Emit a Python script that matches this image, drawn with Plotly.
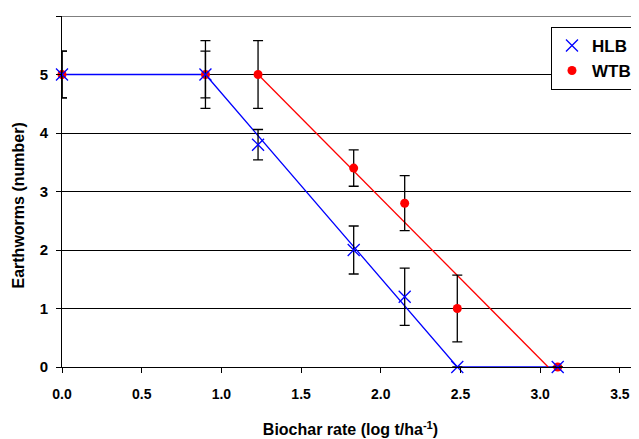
import plotly.graph_objects as go

# Data
x_rate = [0.0, 0.9, 1.23, 1.83, 2.15, 2.48, 3.11]
hlb = [5.0, 5.0, 3.8, 2.0, 1.2, 0.0, 0.0]
hlb_err = [0.4, 0.4, 0.26, 0.41, 0.49, 0.0, 0.0]
wtb = [5.0, 5.0, 5.0, 3.4, 2.8, 1.0, 0.0]
wtb_err = [0.4, 0.58, 0.58, 0.31, 0.47, 0.57, 0.0]

# fitted lines
hlb_fit_x = [0.0, 0.9, 2.48, 3.11]
hlb_fit_y = [5.0, 5.0, 0.0, 0.0]
wtb_fit_x = [1.23, 3.05]
wtb_fit_y = [5.0, 0.0]

x_ticks = [0.0, 0.5, 1.0, 1.5, 2.0, 2.5, 3.0, 3.5]
x_ticklabels = ["0.0", "0.5", "1.0", "1.5", "2.0", "2.5", "3.0", "3.5"]
y_ticks = [0, 1, 2, 3, 4, 5, 6]

FONT = "Arial, Liberation Sans, sans-serif"

fig = go.Figure()
fig.add_trace(go.Scatter(x=hlb_fit_x, y=hlb_fit_y, mode="lines",
                         line=dict(color="#0000ff", width=1.3), showlegend=False,
                         hoverinfo="skip", cliponaxis=False))
fig.add_trace(go.Scatter(x=wtb_fit_x, y=wtb_fit_y, mode="lines",
                         line=dict(color="#ff0000", width=1.3), showlegend=False,
                         hoverinfo="skip", cliponaxis=False))
fig.add_trace(go.Scatter(x=x_rate, y=wtb, mode="markers", name="WTB",
                         marker=dict(symbol="circle", size=9, color="#ff0000"),
                         error_y=dict(type="data", array=wtb_err, visible=True,
                                      color="black", thickness=1.3, width=5),
                         showlegend=False, cliponaxis=False))
fig.add_trace(go.Scatter(x=x_rate, y=hlb, mode="markers", name="HLB",
                         marker=dict(symbol="x-thin", size=12,
                                     line=dict(color="#0000ff", width=1.3), color="#0000ff"),
                         error_y=dict(type="data", array=hlb_err, visible=True,
                                      color="black", thickness=1.3, width=5),
                         cliponaxis=False))
# legend-only WTB so order is HLB, WTB
fig.add_trace(go.Scatter(x=[None], y=[None], mode="markers", name="WTB",
                         marker=dict(symbol="circle", size=9, color="#ff0000")))

# page body has an 8px margin, so the figure is sized/margined to compensate
fig.update_layout(
    width=631, height=431,
    margin=dict(l=54, r=0, t=8, b=72),
    paper_bgcolor="white", plot_bgcolor="white",
    font=dict(family=FONT, size=13, color="black"),
    legend=dict(x=0.9965, y=0.969, xanchor="right", yanchor="top",
                bordercolor="black", borderwidth=1, bgcolor="white",
                font=dict(family=FONT, size=17, color="black", weight="bold"),
                itemwidth=30, tracegroupgap=0),
    xaxis=dict(range=[0, 3.62], tickvals=x_ticks, ticktext=x_ticklabels,
               showgrid=False, zeroline=False, showline=True, linecolor="black", linewidth=1,
               ticks="outside", ticklen=5, tickcolor="black", ticklabelstandoff=9,
               tickfont=dict(family=FONT, size=14, weight="bold"),
               title=dict(text="Biochar rate (log t/ha<sup>-1</sup>)",
                          font=dict(family=FONT, size=16, weight="bold"), standoff=23)),
    yaxis=dict(range=[0, 6], tickvals=y_ticks,
               showgrid=True, gridcolor="black", gridwidth=1, zeroline=False,
               showline=True, linecolor="black", linewidth=1,
               ticks="outside", ticklen=5, tickcolor="black", ticklabelstandoff=5,
               tickfont=dict(family=FONT, size=15, weight="bold")),
    shapes=[dict(type="line", xref="paper", yref="y", x0=0, x1=1, y0=6, y1=6,
                 line=dict(color="black", width=1))],
    annotations=[dict(text="Earthworms (number)", textangle=-90, showarrow=False,
                      xref="paper", yref="paper", x=0, y=0.5, xanchor="center", yanchor="middle",
                      xshift=-44, yshift=-14,
                      font=dict(family=FONT, size=16, weight="bold", color="black"))],
)

fig.write_html("out.html")
